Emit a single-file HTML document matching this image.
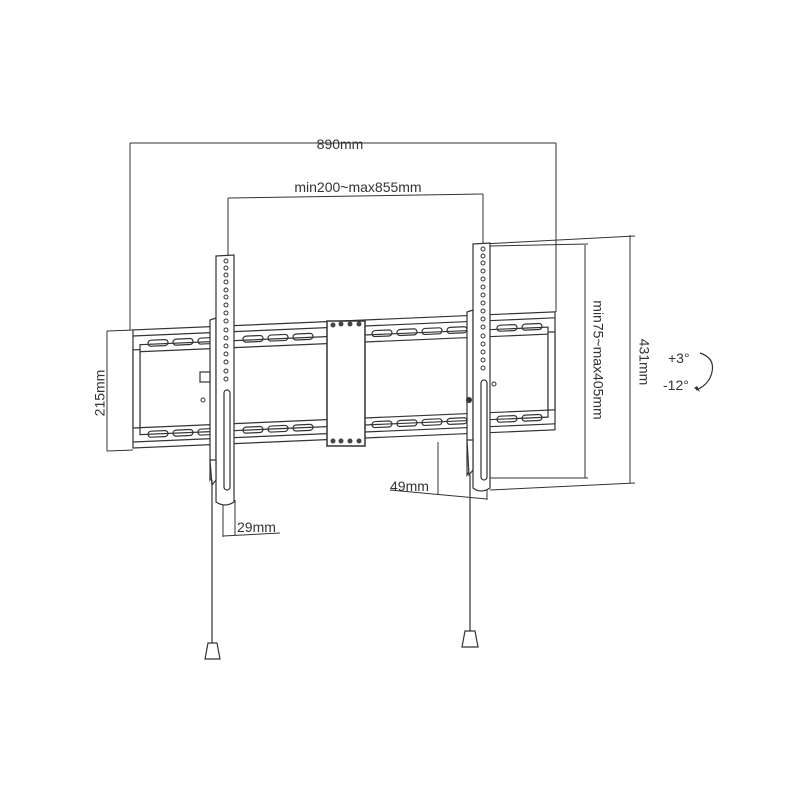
<!DOCTYPE html>
<html><head><meta charset="utf-8"><style>html,body{margin:0;background:#fff}svg{display:block}text{font-family:"Liberation Sans",sans-serif;fill:#333}</style></head>
<body>
<svg width="800" height="800" viewBox="0 0 800 800" xmlns="http://www.w3.org/2000/svg">
<g stroke="#333" stroke-width="1" fill="none">
<!-- 890 dimension -->
<line x1="130" y1="143" x2="556" y2="143"/>
<line x1="130" y1="143" x2="130" y2="330"/>
<line x1="556" y1="143" x2="556" y2="312"/>
<!-- min200 -->
<line x1="228" y1="198" x2="483" y2="194"/>
<line x1="228" y1="198" x2="228" y2="257"/>
<line x1="483" y1="194" x2="483" y2="243"/>
<!-- 215 -->
<line x1="107" y1="331" x2="107" y2="451"/>
<line x1="107" y1="331" x2="133" y2="330"/>
<line x1="107" y1="451" x2="133" y2="450"/>
<!-- 431 -->
<line x1="630" y1="235" x2="630" y2="483"/>
<line x1="483" y1="244" x2="635" y2="236"/>
<line x1="490" y1="490" x2="635" y2="483"/>
<!-- min75 -->
<line x1="585" y1="245" x2="585" y2="478"/>
<line x1="490" y1="246" x2="588" y2="244"/>
<line x1="490" y1="478" x2="588" y2="478"/>
<!-- 49 -->
<line x1="438" y1="442" x2="438" y2="495"/>
<line x1="390" y1="490" x2="487" y2="499"/>
<line x1="487" y1="490" x2="487" y2="500"/>
<!-- 29 -->
<line x1="223" y1="500" x2="223" y2="537"/>
<line x1="235" y1="500" x2="235" y2="535"/>
<line x1="223" y1="536" x2="280" y2="533"/>
</g>
<!-- wall plate -->
<g transform="matrix(1,-0.043,0,1,0,5.7)" stroke="#333" stroke-width="1.2" fill="#fff">
<rect x="133" y="330" width="422" height="118"/>
<rect x="140" y="345" width="408" height="90" fill="#fff"/>
<line x1="133" y1="336" x2="555" y2="336"/>
<line x1="133" y1="352" x2="555" y2="352"/>
<line x1="133" y1="428" x2="555" y2="428"/>
<line x1="133" y1="442" x2="555" y2="442"/>
<g fill="none">
<rect x="148" y="341" width="20" height="6" rx="3"/><rect x="173" y="341" width="20" height="6" rx="3"/><rect x="198" y="341" width="20" height="6" rx="3"/>
<rect x="243" y="341" width="20" height="6" rx="3"/><rect x="268" y="341" width="20" height="6" rx="3"/><rect x="293" y="341" width="20" height="6" rx="3"/>
<rect x="372" y="341" width="20" height="6" rx="3"/><rect x="397" y="341" width="20" height="6" rx="3"/><rect x="422" y="341" width="20" height="6" rx="3"/><rect x="447" y="341" width="20" height="6" rx="3"/>
<rect x="497" y="341" width="20" height="6" rx="3"/><rect x="522" y="341" width="20" height="6" rx="3"/>
<rect x="148" y="432" width="20" height="6" rx="3"/><rect x="173" y="432" width="20" height="6" rx="3"/><rect x="198" y="432" width="20" height="6" rx="3"/>
<rect x="243" y="432" width="20" height="6" rx="3"/><rect x="268" y="432" width="20" height="6" rx="3"/><rect x="293" y="432" width="20" height="6" rx="3"/>
<rect x="372" y="432" width="20" height="6" rx="3"/><rect x="397" y="432" width="20" height="6" rx="3"/><rect x="422" y="432" width="20" height="6" rx="3"/><rect x="447" y="432" width="20" height="6" rx="3"/>
<rect x="497" y="432" width="20" height="6" rx="3"/><rect x="522" y="432" width="20" height="6" rx="3"/>
</g>
<rect x="133" y="350" width="7" height="78"/>
<rect x="548" y="350" width="7" height="78"/>
</g>
<!-- center block -->
<rect x="327" y="321" width="38" height="125" fill="#fff" stroke="#333" stroke-width="1.5"/>
<g fill="#444"><circle cx="333" cy="325" r="2.5"/><circle cx="341" cy="324" r="2.5"/><circle cx="350" cy="324" r="2.5"/><circle cx="359" cy="324" r="2.5"/>
<circle cx="333" cy="441" r="2.5"/><circle cx="341" cy="441" r="2.5"/><circle cx="350" cy="441" r="2.5"/><circle cx="359" cy="441" r="2.5"/></g>
<!-- left arm -->
<g stroke="#333" stroke-width="1.2" fill="#fff">
<path d="M210 320 L216 318 L216 470 L210 480 Z"/>
<path d="M216 256 L234 255 L234 502 Q225 508 216 502 Z"/>
<rect x="224" y="390" width="6" height="100" rx="3"/>
<rect x="200" y="372" width="10" height="10"/>
<path d="M210 460 L216 460 L216 480 L212 485Z"/>
</g>
<g fill="none" stroke="#333"><circle cx="226" cy="261" r="2"/><circle cx="226" cy="268" r="2"/><circle cx="226" cy="275" r="2"/><circle cx="226" cy="282" r="2"/><circle cx="226" cy="290" r="2"/><circle cx="226" cy="297" r="2"/><circle cx="226" cy="305" r="2"/><circle cx="226" cy="313" r="2"/><circle cx="226" cy="321" r="2"/><circle cx="226" cy="330" r="2"/><circle cx="226" cy="338" r="2"/><circle cx="226" cy="346" r="2"/><circle cx="226" cy="354" r="2"/><circle cx="226" cy="362" r="2"/><circle cx="226" cy="371" r="2"/><circle cx="226" cy="379" r="2"/><circle cx="203" cy="400" r="2"/></g>
<!-- right arm -->
<g stroke="#333" stroke-width="1.2" fill="#fff">
<path d="M467 312 L473 310 L473 465 L467 475 Z"/>
<path d="M473 244 L490 243 L490 488 Q481 494 473 488 Z"/>
<rect x="481" y="380" width="6" height="100" rx="3"/>
<path d="M467 440 L473 440 L473 470 L469 475Z"/>
</g>
<g fill="none" stroke="#333"><circle cx="483" cy="249" r="2"/><circle cx="483" cy="256" r="2"/><circle cx="483" cy="263" r="2"/><circle cx="483" cy="271" r="2"/><circle cx="483" cy="279" r="2"/><circle cx="483" cy="287" r="2"/><circle cx="483" cy="295" r="2"/><circle cx="483" cy="303" r="2"/><circle cx="483" cy="311" r="2"/><circle cx="483" cy="319" r="2"/><circle cx="483" cy="327" r="2"/><circle cx="483" cy="336" r="2"/><circle cx="483" cy="344" r="2"/><circle cx="483" cy="352" r="2"/><circle cx="483" cy="360" r="2"/><circle cx="483" cy="368" r="2"/><circle cx="494" cy="384" r="2"/></g>
<circle cx="469" cy="400" r="3" fill="#333"/>
<!-- strings & weights -->
<g stroke="#333" stroke-width="1.2" fill="#fff">
<line x1="212" y1="480" x2="212" y2="643"/>
<line x1="470" y1="475" x2="470" y2="632"/>
<path d="M208 643 L217 643 L220 659 L205 659 Z"/>
<path d="M465 631 L475 631 L478 647 L462 647 Z"/>
</g>
<!-- tilt arrow -->
<path d="M700 353 Q715 358 712 372 Q709 385 696 390" fill="none" stroke="#333" stroke-width="1.2"/>
<path d="M694 388 L700 392 L697 386Z" fill="#333"/>
<!-- texts -->
<text x="340" y="149" font-size="14" text-anchor="middle">890mm</text>
<text x="358" y="192" font-size="14" text-anchor="middle">min200~max855mm</text>
<text x="101" y="393" font-size="14" text-anchor="middle" transform="rotate(-90 101 393)" dominant-baseline="middle">215mm</text>
<text x="643" y="362" font-size="14" text-anchor="middle" transform="rotate(90 643 362)" dominant-baseline="middle">431mm</text>
<text x="597" y="360" font-size="14" text-anchor="middle" transform="rotate(90 597 360)" dominant-baseline="middle">min75~max405mm</text>
<text x="390" y="491" font-size="14">49mm</text>
<text x="237" y="532" font-size="14">29mm</text>
<text x="668" y="363" font-size="14">+3°</text>
<text x="663" y="390" font-size="14">-12°</text>
</svg>
</body></html>
